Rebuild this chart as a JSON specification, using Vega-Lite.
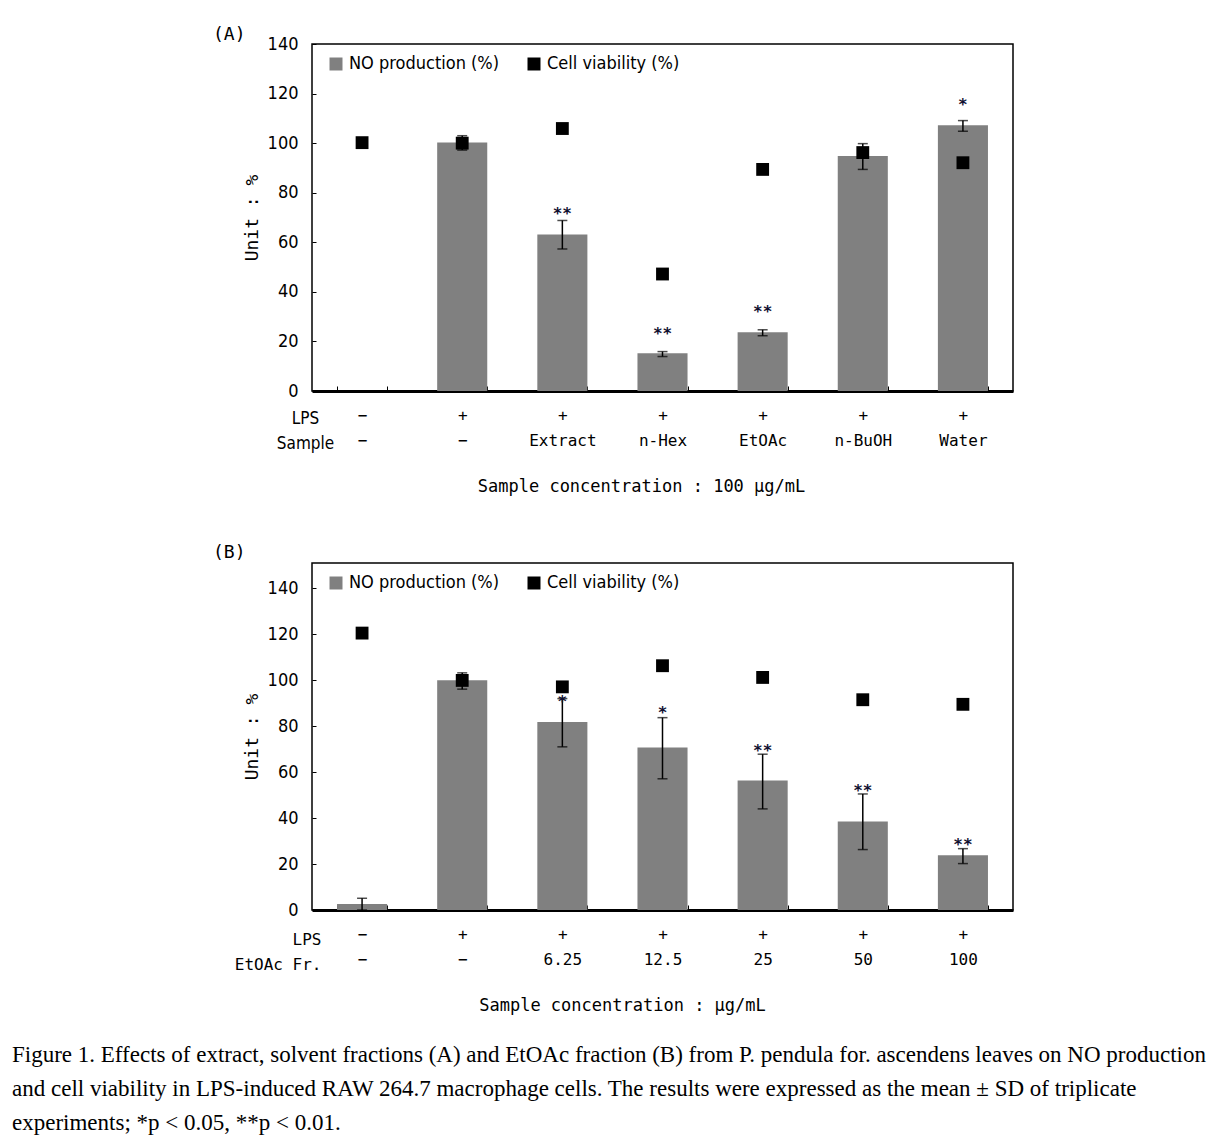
{
  "$schema": "https://vega.github.io/schema/vega-lite/v6.json",
  "padding": {"left": 12, "top": 26, "right": 10, "bottom": 5},
  "background": "white",
  "datasets": {
    "a": [
      {"group": "−|−", "no": null, "lo": null, "hi": null, "cv": 100.2, "star": null, "sy": null},
      {"group": "+|−", "no": 100.3, "lo": 97.2, "hi": 103, "cv": 100, "star": null, "sy": null},
      {"group": "+|Extract", "no": 63.1, "lo": 57.3, "hi": 68.8, "cv": 105.9, "star": "**", "sy": 72.5},
      {"group": "+|n-Hex", "no": 15.2, "lo": 13.9, "hi": 15.9, "cv": 47.2, "star": "**", "sy": 24.3},
      {"group": "+|EtOAc", "no": 23.7, "lo": 22.3, "hi": 24.7, "cv": 89.4, "star": "**", "sy": 33.2},
      {"group": "+|n-BuOH", "no": 94.8, "lo": 89.4, "hi": 99.8, "cv": 96.2, "star": null, "sy": null},
      {"group": "+|Water", "no": 107.2, "lo": 104.8, "hi": 109.1, "cv": 92.1, "star": "*", "sy": 116.7}
    ],
    "b": [
      {"group": "−|−", "no": 2.6, "lo": 0, "hi": 5.1, "cv": 120.5, "star": null, "sy": null},
      {"group": "+|−", "no": 100, "lo": 96.1, "hi": 103.2, "cv": 99.9, "star": null, "sy": null},
      {"group": "+|6.25", "no": 81.8, "lo": 71, "hi": 92, "cv": 97.1, "star": "*", "sy": 91.9},
      {"group": "+|12.5", "no": 70.7, "lo": 57.1, "hi": 83.7, "cv": 106.3, "star": "*", "sy": 86.9},
      {"group": "+|25", "no": 56.3, "lo": 44, "hi": 67.8, "cv": 101.2, "star": "**", "sy": 70.4},
      {"group": "+|50", "no": 38.5, "lo": 26.3, "hi": 50.5, "cv": 91.5, "star": "**", "sy": 52.9},
      {"group": "+|100", "no": 23.8, "lo": 20.2, "hi": 26.7, "cv": 89.5, "star": "**", "sy": 29.6}
    ]
  },
  "config": {
    "view": {"stroke": "black", "strokeWidth": 1.5},
    "axis": {"grid": false, "domainColor": "black", "tickColor": "black", "labelColor": "black", "titleColor": "black"},
    "title": {"color": "black"}
  },
  "title": {
    "text": [
      "Figure 1. Effects of extract, solvent fractions (A) and EtOAc fraction (B) from P. pendula for. ascendens leaves on NO production",
      "and cell viability in LPS-induced RAW 264.7 macrophage cells. The results were expressed as the mean ± SD of triplicate",
      "experiments; *p < 0.05, **p < 0.01."
    ],
    "orient": "bottom", "anchor": "start", "frame": "group",
    "font": "Liberation Serif", "fontSize": 23, "fontWeight": "normal", "lineHeight": 34,
    "dx": -300, "offset": 29
  },
  "spacing": 48,
  "resolve": {"scale": {"color": "independent", "x": "independent", "y": "independent"}, "legend": {"color": "independent"}, "axis": {"x": "independent", "y": "independent"}},
  "vconcat": [
    {
      "title": {"text": "(A)", "anchor": "start", "frame": "group", "font": "DejaVu Sans Mono", "fontSize": 18, "fontWeight": "normal", "dx": -99, "offset": -10},
      "resolve": {"scale": {"color": "independent"}, "legend": {"color": "independent"}},
      "vconcat": [
        {
          "width": 701, "height": 347,
          "data": {"name": "a"},
          "title": {"text": "Sample concentration : 100 μg/mL", "orient": "bottom", "anchor": "middle", "frame": "group", "font": "DejaVu Sans Mono", "fontSize": 17, "fontWeight": "normal", "offset": 28, "dx": -21},
          "encoding": {
            "x": {
              "field": "group", "type": "nominal", "sort": null,
              "scale": {"domain": ["−|−", "+|−", "+|Extract", "+|n-Hex", "+|EtOAc", "+|n-BuOH", "+|Water"], "paddingInner": 0.5, "paddingOuter": 0.25},
              "axis": {
                "title": ["LPS", "Sample"], "titleFont": "DejaVu Sans Condensed, Roboto, sans-serif", "titleFontSize": 17, "titleFontWeight": "normal",
                "titleX": -7, "titleY": 19, "titleAlign": "center", "titleBaseline": "top", "titleLineHeight": 25, "titleAngle": 0,
                "labelExpr": "isValid(datum.value) ? split(datum.value, '|') : ''", "labelAngle": 0, "labelFont": "DejaVu Sans Mono", "labelFontSize": 16,
                "labelBaseline": "top", "labelLineHeight": 25, "labelPadding": 21,
                "tickBand": "extent", "tickSize": -5, "tickWidth": 1, "domainWidth": 3
              }
            }
          },
          "layer": [
            {
              "mark": {"type": "bar", "opacity": 1},
              "encoding": {
                "y": {"field": "no", "type": "quantitative", "scale": {"domain": [0, 140], "nice": false},
                  "axis": {"title": "Unit : %", "values": [0, 20, 40, 60, 80, 100, 120, 140], "domain": false, "tickSize": -4,
                    "labelFont": "DejaVu Sans Condensed, Roboto, sans-serif", "labelFontSize": 18, "labelPadding": 18,
                    "titleFont": "DejaVu Sans Mono", "titleFontSize": 18, "titleFontWeight": "normal", "titlePadding": 6}},
                "color": {"datum": "NO production (%)", "type": "nominal",
                  "scale": {"domain": ["NO production (%)", "Cell viability (%)"], "range": ["#808080", "#000000"]},
                  "legend": {"title": null, "orient": "none", "legendX": 15, "legendY": 11, "direction": "horizontal",
                    "symbolType": "square", "symbolSize": 169, "symbolStrokeWidth": 0, "labelFont": "DejaVu Sans Condensed, Roboto, sans-serif",
                    "labelFontSize": 18, "labelOffset": 4, "columnPadding": 25, "labelColor": "black"}}
              }
            },
            {
              "mark": {"type": "rule", "color": "black", "strokeWidth": 1.5},
              "encoding": {"y": {"field": "lo", "type": "quantitative"}, "y2": {"field": "hi"}}
            },
            {
              "mark": {"type": "tick", "color": "black", "size": 10, "thickness": 1.5},
              "encoding": {"y": {"field": "lo", "type": "quantitative"}}
            },
            {
              "mark": {"type": "tick", "color": "black", "size": 10, "thickness": 1.5},
              "encoding": {"y": {"field": "hi", "type": "quantitative"}}
            },
            {
              "mark": {"type": "point", "shape": "square", "filled": true, "size": 165, "opacity": 1},
              "encoding": {
                "y": {"field": "cv", "type": "quantitative"},
                "color": {"datum": "Cell viability (%)", "type": "nominal"}
              }
            },
            {
              "mark": {"type": "text", "font": "DejaVu Sans Mono", "fontSize": 16, "fontWeight": "bold", "baseline": "middle", "color": "#101030", "dy": 3},
              "encoding": {"y": {"field": "sy", "type": "quantitative"}, "text": {"field": "star"}}
            }
          ]
        }
      ]
    },
    {
      "title": {"text": "(B)", "anchor": "start", "frame": "group", "font": "DejaVu Sans Mono", "fontSize": 18, "fontWeight": "normal", "dx": -99, "offset": 0},
      "resolve": {"scale": {"color": "independent"}, "legend": {"color": "independent"}},
      "vconcat": [
        {
          "width": 701, "height": 347,
          "data": {"name": "b"},
          "title": {"text": "Sample concentration : μg/mL", "orient": "bottom", "anchor": "middle", "frame": "group", "font": "DejaVu Sans Mono", "fontSize": 17, "fontWeight": "normal", "offset": 26, "dx": -40},
          "encoding": {
            "x": {
              "field": "group", "type": "nominal", "sort": null,
              "scale": {"domain": ["−|−", "+|−", "+|6.25", "+|12.5", "+|25", "+|50", "+|100"], "paddingInner": 0.5, "paddingOuter": 0.25},
              "axis": {
                "title": ["LPS", "EtOAc Fr."], "titleFont": "DejaVu Sans Mono", "titleFontSize": 16, "titleFontWeight": "normal",
                "titleX": 9, "titleY": 21, "titleAlign": "right", "titleBaseline": "top", "titleLineHeight": 25, "titleAngle": 0,
                "labelExpr": "isValid(datum.value) ? split(datum.value, '|') : ''", "labelAngle": 0, "labelFont": "DejaVu Sans Mono", "labelFontSize": 16,
                "labelBaseline": "top", "labelLineHeight": 25, "labelPadding": 21,
                "tickBand": "extent", "tickSize": -5, "tickWidth": 1, "domainWidth": 3
              }
            }
          },
          "layer": [
            {
              "mark": {"type": "bar", "opacity": 1},
              "encoding": {
                "y": {"field": "no", "type": "quantitative", "scale": {"domain": [0, 151], "nice": false},
                  "axis": {"title": "Unit : %", "values": [0, 20, 40, 60, 80, 100, 120, 140], "domain": false, "tickSize": -4,
                    "labelFont": "DejaVu Sans Condensed, Roboto, sans-serif", "labelFontSize": 18, "labelPadding": 18,
                    "titleFont": "DejaVu Sans Mono", "titleFontSize": 18, "titleFontWeight": "normal", "titlePadding": 6}},
                "color": {"datum": "NO production (%)", "type": "nominal",
                  "scale": {"domain": ["NO production (%)", "Cell viability (%)"], "range": ["#808080", "#000000"]},
                  "legend": {"title": null, "orient": "none", "legendX": 15, "legendY": 11, "direction": "horizontal",
                    "symbolType": "square", "symbolSize": 169, "symbolStrokeWidth": 0, "labelFont": "DejaVu Sans Condensed, Roboto, sans-serif",
                    "labelFontSize": 18, "labelOffset": 4, "columnPadding": 25, "labelColor": "black"}}
              }
            },
            {
              "mark": {"type": "rule", "color": "black", "strokeWidth": 1.5},
              "encoding": {"y": {"field": "lo", "type": "quantitative"}, "y2": {"field": "hi"}}
            },
            {
              "mark": {"type": "tick", "color": "black", "size": 10, "thickness": 1.5},
              "encoding": {"y": {"field": "lo", "type": "quantitative"}}
            },
            {
              "mark": {"type": "tick", "color": "black", "size": 10, "thickness": 1.5},
              "encoding": {"y": {"field": "hi", "type": "quantitative"}}
            },
            {
              "mark": {"type": "point", "shape": "square", "filled": true, "size": 165, "opacity": 1},
              "encoding": {
                "y": {"field": "cv", "type": "quantitative"},
                "color": {"datum": "Cell viability (%)", "type": "nominal"}
              }
            },
            {
              "mark": {"type": "text", "font": "DejaVu Sans Mono", "fontSize": 16, "fontWeight": "bold", "baseline": "middle", "color": "#101030", "dy": 3},
              "encoding": {"y": {"field": "sy", "type": "quantitative"}, "text": {"field": "star"}}
            }
          ]
        }
      ]
    }
  ]
}
